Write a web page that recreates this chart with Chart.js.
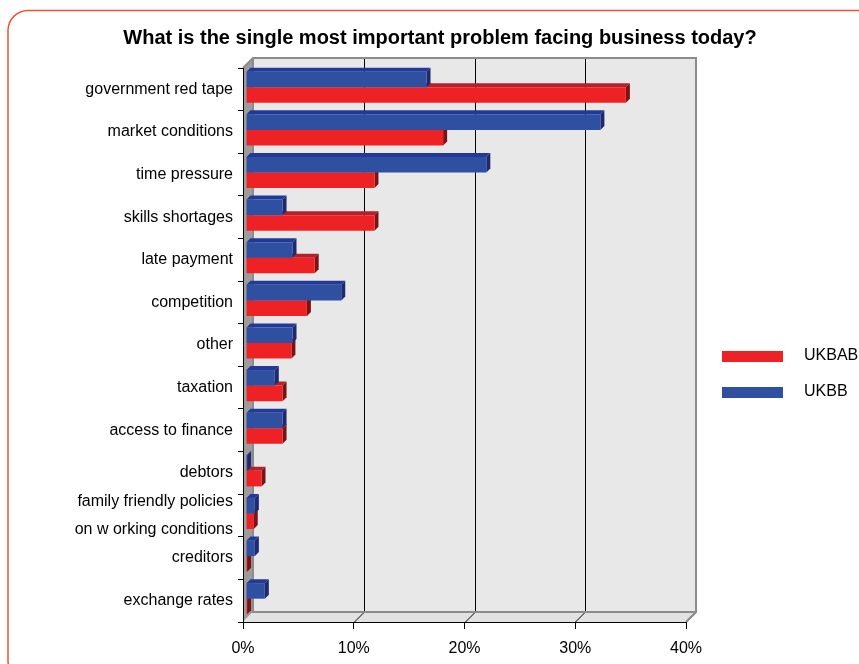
<!DOCTYPE html>
<html lang="en">
<head>
    <meta charset="UTF-8">
    <title>Most important problem facing business</title>
    <script src="https://cdn.jsdelivr.net/npm/chart.js"></script>
    <style>
        html, body { margin: 0; padding: 0; background: #fff; }
        #wrap { width: 859px; height: 664px; }
    </style>
</head>
<body>
    <div id="wrap"><canvas id="problemChart" width="859" height="664"></canvas></div>

    <script>
        // categories top to bottom
        const categories = [
            'government red tape', 'market conditions', 'time pressure', 'skills shortages',
            'late payment', 'competition', 'other', 'taxation', 'access to finance', 'debtors',
            ['family friendly policies', 'on w orking conditions'], 'creditors', 'exchange rates'
        ];
        // percent of respondents
        const ukbb  = [16.3, 32.0, 21.7, 3.3, 4.2, 8.6, 4.2, 2.6, 3.3, 0.1, 0.8, 0.8, 1.7];
        const ukbab = [34.3, 17.8, 11.6, 11.6, 6.2, 5.5, 4.1, 3.3, 3.3, 1.4, 0.7, 0.1, 0.1];
        const xTicks = [0, 10, 20, 30, 40];

        const FONT = "'Liberation Sans', Arial, sans-serif";
        const DEPTH = 10;      // depth of the box (walls / floor)
        const BAR_DEPTH = 4;   // depth of each bar

        // darker shades for the 3d faces
        const faces = {
            '#2f4fa0': { top: '#23399a', side: '#1f2a6e' },
            '#ee2225': { top: '#b5212a', side: '#7b1214' }
        };

        // walls, floor and back grid lines
        const boxPlugin = {
            id: 'box3d',
            beforeDraw(chart) {
                const ctx = chart.ctx;
                const a = chart.chartArea;
                const xs = chart.scales.x;
                ctx.save();
                // outer rounded frame
                ctx.strokeStyle = '#f0502f';
                ctx.lineWidth = 1.5;
                ctx.beginPath();
                ctx.roundRect(8, 10.5, 870, 670, 20);
                ctx.stroke();

                // back wall
                ctx.fillStyle = '#e8e8e8';
                ctx.fillRect(a.left + DEPTH, a.top - DEPTH, a.width, a.height);
                // side wall
                ctx.fillStyle = '#9c9c9c';
                ctx.beginPath();
                ctx.moveTo(a.left, a.top);
                ctx.lineTo(a.left + DEPTH, a.top - DEPTH);
                ctx.lineTo(a.left + DEPTH, a.bottom - DEPTH);
                ctx.lineTo(a.left, a.bottom);
                ctx.closePath();
                ctx.fill();
                // floor
                ctx.fillStyle = '#e2e2e2';
                ctx.beginPath();
                ctx.moveTo(a.left, a.bottom);
                ctx.lineTo(a.left + DEPTH, a.bottom - DEPTH);
                ctx.lineTo(a.right + DEPTH, a.bottom - DEPTH);
                ctx.lineTo(a.right, a.bottom);
                ctx.closePath();
                ctx.fill();

                // grid lines on back wall + floor
                ctx.strokeStyle = '#000';
                ctx.lineWidth = 1;
                xTicks.forEach(v => {
                    const px = Math.round(xs.getPixelForValue(v)) + 0.5;
                    if (v > 0 && v < 40) {
                        ctx.beginPath();
                        ctx.moveTo(px + DEPTH, a.top - DEPTH);
                        ctx.lineTo(px + DEPTH, a.bottom - DEPTH);
                        ctx.stroke();
                    }
                    if (v > 0) {
                        ctx.beginPath();
                        ctx.moveTo(px, a.bottom);
                        ctx.lineTo(px + DEPTH, a.bottom - DEPTH);
                        ctx.stroke();
                    }
                });

                // wall outlines
                ctx.strokeStyle = '#8c8c8c';
                ctx.lineWidth = 2;
                ctx.beginPath();
                ctx.moveTo(a.left, a.top);
                ctx.lineTo(a.left + DEPTH, a.top - DEPTH);
                ctx.lineTo(a.right + DEPTH, a.top - DEPTH);
                ctx.lineTo(a.right + DEPTH, a.bottom - DEPTH);
                ctx.lineTo(a.right, a.bottom);
                ctx.moveTo(a.left + DEPTH, a.top - DEPTH);
                ctx.lineTo(a.left + DEPTH, a.bottom - DEPTH);
                ctx.lineTo(a.right + DEPTH, a.bottom - DEPTH);
                ctx.stroke();
                ctx.restore();
            },
            // bars sit a little into the box
            beforeDatasetsDraw(chart) {
                chart.ctx.save();
                chart.ctx.translate(3, -2);
            },
            beforeDatasetDraw(chart, args) {
                // top and side faces of each bar, drawn before its front face
                const ctx = chart.ctx;
                const meta = args.meta;
                const col = chart.data.datasets[args.index].backgroundColor;
                const f = faces[col];
                meta.data.forEach(bar => {
                    const p = bar.getProps(['x', 'y', 'base', 'height'], true);
                    const top = p.y - p.height / 2;
                    const bottom = p.y + p.height / 2;
                    ctx.fillStyle = f.top;
                    ctx.beginPath();
                    ctx.moveTo(p.base, top);
                    ctx.lineTo(p.base + BAR_DEPTH, top - BAR_DEPTH);
                    ctx.lineTo(p.x + BAR_DEPTH, top - BAR_DEPTH);
                    ctx.lineTo(p.x, top);
                    ctx.closePath();
                    ctx.fill();
                    ctx.fillStyle = f.side;
                    ctx.beginPath();
                    ctx.moveTo(p.x, top);
                    ctx.lineTo(p.x + BAR_DEPTH, top - BAR_DEPTH);
                    ctx.lineTo(p.x + BAR_DEPTH, bottom - BAR_DEPTH);
                    ctx.lineTo(p.x, bottom);
                    ctx.closePath();
                    ctx.fill();
                });
            },
            afterDatasetsDraw(chart) {
                chart.ctx.restore();
            },
            // legend, UKBAB listed first
            afterDraw(chart) {
                const ctx = chart.ctx;
                const items = chart.data.datasets.slice().reverse();
                ctx.save();
                ctx.font = '16px ' + FONT;
                ctx.textBaseline = 'middle';
                ctx.textAlign = 'left';
                items.forEach((ds, i) => {
                    const y = 351 + i * 36;
                    ctx.fillStyle = ds.backgroundColor;
                    ctx.fillRect(722, y, 61, 11);
                    ctx.fillStyle = '#000';
                    ctx.fillText(ds.label, 804, y + 5);
                });
                ctx.restore();
            }
        };

        const ctx = document.getElementById('problemChart').getContext('2d');
        const problemChart = new Chart(ctx, {
            type: 'bar',
            data: {
                labels: categories,
                datasets: [
                    { label: 'UKBB', data: ukbb, backgroundColor: '#2f4fa0', clip: false },
                    { label: 'UKBAB', data: ukbab, backgroundColor: '#ee2225', clip: false }
                ]
            },
            options: {
                indexAxis: 'y',
                responsive: false,
                animation: false,
                layout: { padding: { left: 21, right: 0, top: 0, bottom: 0 } },
                datasets: { bar: { categoryPercentage: 0.73, barPercentage: 1.0, borderWidth: 0 } },
                plugins: {
                    legend: { display: false },
                    tooltip: { enabled: false },
                    title: {
                        display: true,
                        text: 'What is the single most important problem facing business today?',
                        color: '#000',
                        font: { family: FONT, size: 20, weight: 'bold' },
                        padding: { top: 26, bottom: 18 }
                    }
                },
                scales: {
                    x: {
                        min: 0,
                        max: 40,
                        afterFit: s => { s.height = 42; },
                        afterBuildTicks: s => { s.ticks = xTicks.map(v => ({ value: v })); },
                        ticks: {
                            color: '#000',
                            font: { family: FONT, size: 16 },
                            padding: 10,
                            callback: v => v + '%'
                        },
                        grid: { drawOnChartArea: false, tickLength: 7, color: '#000' },
                        border: { color: '#000', width: 1 }
                    },
                    y: {
                        afterFit: s => { s.width = 222; },
                        ticks: {
                            color: '#000',
                            font: { family: FONT, size: 16, lineHeight: '28px' },
                            padding: 5,
                            autoSkip: false
                        },
                        grid: { offset: true, drawOnChartArea: false, tickLength: 5, color: '#000' },
                        border: { color: '#000', width: 1 }
                    },
                    // empty axis that keeps room on the right for the legend
                    spacer: {
                        type: 'linear',
                        axis: 'y',
                        position: 'right',
                        afterFit: s => { s.width = 173; },
                        ticks: { display: false },
                        grid: { display: false },
                        border: { display: false }
                    }
                }
            },
            plugins: [boxPlugin]
        });
    </script>
</body>
</html>
